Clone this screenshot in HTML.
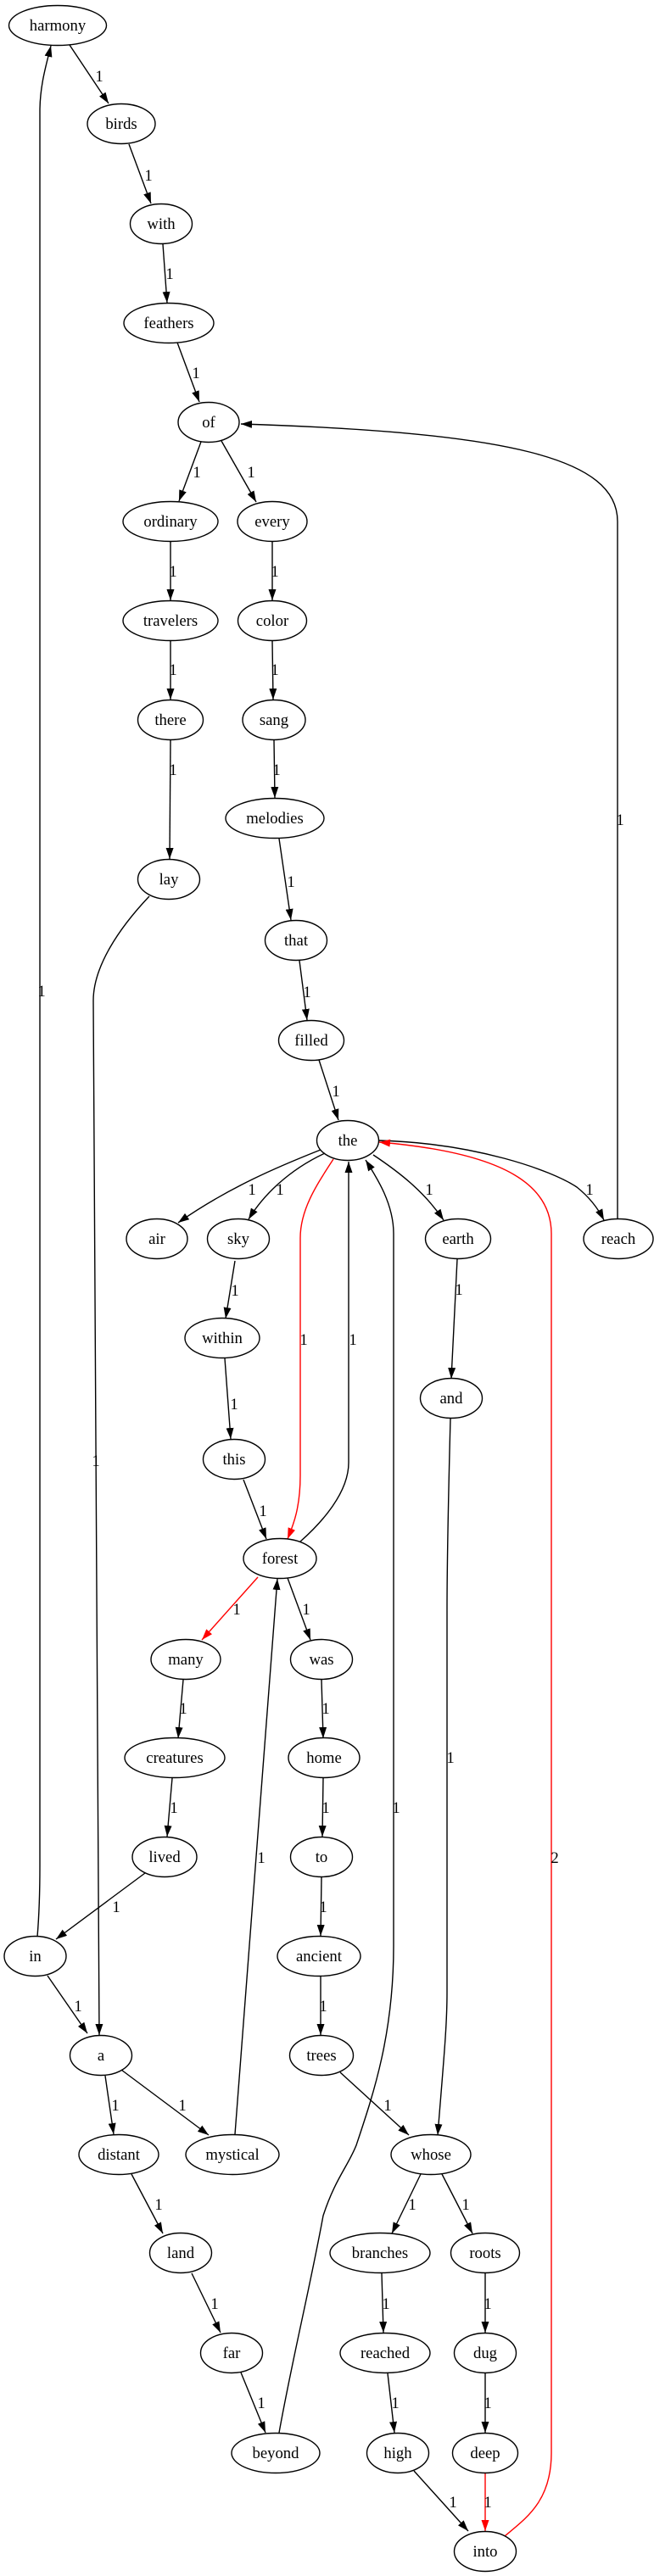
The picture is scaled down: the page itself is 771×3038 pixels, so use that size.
<!DOCTYPE html>
<html><head><meta charset="utf-8"><style>
html,body{margin:0;padding:0;background:#fff;}
svg{display:block;}
text{font-family:"Liberation Serif",serif;font-size:18.7px;text-anchor:middle;fill:#000;}
.e{fill:none;stroke:#000;stroke-width:1.4;}
.r{fill:none;stroke:#f00;stroke-width:1.4;}
ellipse{fill:none;stroke:#000;stroke-width:1.4;}
</style></head><body>
<svg width="771" height="3038" viewBox="0 0 771 3038" xmlns="http://www.w3.org/2000/svg">
<defs>
<marker id="a" viewBox="0 0 13 9" refX="13" refY="4.5" markerWidth="13" markerHeight="9" markerUnits="userSpaceOnUse" orient="auto"><path d="M0,0L13,4.5L0,9z" fill="#000"/></marker>
<marker id="ar" viewBox="0 0 13 9" refX="13" refY="4.5" markerWidth="13" markerHeight="9" markerUnits="userSpaceOnUse" orient="auto"><path d="M0,0L13,4.5L0,9z" fill="#f00"/></marker>
</defs>
<g marker-end="url(#a)">
<path class="e" d="M82,53L128,122"/>
<path class="e" d="M152,170L178,240"/>
<path class="e" d="M192,288L197,357"/>
<path class="e" d="M209,404L235,474"/>
<path class="e" d="M237,521L211,591"/>
<path class="e" d="M261,520L302,592"/>
<path class="e" d="M201,639L201,708"/>
<path class="e" d="M321,639L321,708"/>
<path class="e" d="M201,756L201,825"/>
<path class="e" d="M321,756L322,825"/>
<path class="e" d="M201,873L200,1013"/>
<path class="e" d="M323,873L324,941"/>
<path class="e" d="M329,989L343,1085"/>
<path class="e" d="M353,1133L362,1203"/>
<path class="e" d="M376,1250L399,1321"/>
<path class="e" d="M378,1356C330,1375 270,1400 210,1442"/>
<path class="e" d="M383,1360C340,1380 310,1410 293,1438"/>
<path class="e" d="M440,1362C470,1382 500,1405 523,1439"/>
<path class="e" d="M446,1345C560,1348 650,1380 680,1400C695,1412 705,1425 712,1439"/>
<path class="e" d="M728,1437L728,615C728,540 600,510 284,500"/>
<path class="e" d="M277,1487L266,1555"/>
<path class="e" d="M265,1602L272,1697"/>
<path class="e" d="M287,1745L314,1815"/>
<path class="e" d="M354,1818C380,1795 411,1760 411,1725L411,1370"/>
<path class="e" d="M339,1861L366,1934"/>
<path class="e" d="M539,1485L532,1626"/>
<path class="e" d="M531,1673C529,1750 527,1850 527,1900L527,2350C527,2390 523,2430 516,2518"/>
<path class="e" d="M216,1981L210,2050"/>
<path class="e" d="M379,1981L381,2050"/>
<path class="e" d="M203,2097L197,2166"/>
<path class="e" d="M381,2097L380,2166"/>
<path class="e" d="M171,2209L66,2287"/>
<path class="e" d="M379,2214L378,2283"/>
<path class="e" d="M44,2284C46,2260 47,2230 47,2200L47,131C47,100 55,75 60,54"/>
<path class="e" d="M176,1057C140,1095 110,1140 110,1180L117,2400"/>
<path class="e" d="M56,2330L103,2398"/>
<path class="e" d="M378,2331L378,2400"/>
<path class="e" d="M124,2448L134,2517"/>
<path class="e" d="M143,2441L246,2518"/>
<path class="e" d="M277,2517L327,1862"/>
<path class="e" d="M401,2444L482,2518"/>
<path class="e" d="M155,2564L192,2634"/>
<path class="e" d="M496,2564L462,2634"/>
<path class="e" d="M521,2564L557,2634"/>
<path class="e" d="M226,2681L260,2751"/>
<path class="e" d="M450,2681L452,2751"/>
<path class="e" d="M572,2681L572,2751"/>
<path class="e" d="M284,2798L313,2869"/>
<path class="e" d="M457,2799L465,2869"/>
<path class="e" d="M572,2798L572,2869"/>
<path class="e" d="M329,2869C345,2780 365,2700 381,2613C395,2570 410,2555 420,2530C440,2470 464,2400 464,2295L464,1455C464,1420 445,1390 431,1368"/>
<path class="e" d="M488,2914L552,2985"/>
</g>
<g marker-end="url(#ar)">
<path class="r" d="M393,1367C375,1395 354,1425 354,1460L354,1740C354,1780 345,1800 339,1815"/>
<path class="r" d="M304,1860L238,1934"/>
<path class="r" d="M572,2916L572,2985"/>
<path class="r" d="M595,2991C620,2970 650,2950 650,2893L650,1455C650,1400 600,1360 447,1347"/>
</g>
<g>
<text x="117" y="96">1</text><text x="175" y="213">1</text><text x="200" y="329">1</text><text x="231" y="446">1</text>
<text x="232" y="563">1</text><text x="296" y="563">1</text><text x="204" y="680">1</text><text x="324" y="680">1</text>
<text x="204" y="796">1</text><text x="324" y="796">1</text><text x="204" y="914">1</text><text x="326" y="914">1</text>
<text x="343" y="1046">1</text><text x="362" y="1176">1</text><text x="396" y="1293">1</text>
<text x="731" y="973">1</text><text x="49" y="1175">1</text><text x="113" y="1729">1</text>
<text x="297" y="1409">1</text><text x="330" y="1409">1</text><text x="506" y="1409">1</text><text x="695" y="1409">1</text>
<text x="277" y="1528">1</text><text x="541" y="1527">1</text><text x="276" y="1662">1</text>
<text x="358" y="1586">1</text><text x="416" y="1586">1</text><text x="310" y="1788">1</text>
<text x="279" y="1904">1</text><text x="361" y="1904">1</text>
<text x="216" y="2021">1</text><text x="384" y="2021">1</text><text x="531" y="2079">1</text>
<text x="205" y="2138">1</text><text x="384" y="2138">1</text><text x="467" y="2138">1</text>
<text x="308" y="2197">1</text><text x="654" y="2197" fill="#f00" style="fill:#000">2</text>
<text x="137" y="2255">1</text><text x="381" y="2255">1</text>
<text x="92" y="2372">1</text><text x="381" y="2372">1</text>
<text x="136" y="2489">1</text><text x="215" y="2489">1</text><text x="457" y="2489">1</text>
<text x="187" y="2606">1</text><text x="486" y="2606">1</text><text x="549" y="2606">1</text>
<text x="253" y="2723">1</text><text x="455" y="2723">1</text><text x="575" y="2723">1</text>
<text x="308" y="2840">1</text><text x="466" y="2840">1</text><text x="575" y="2840">1</text>
<text x="534" y="2957">1</text><text x="575" y="2957">1</text>
</g>
<g>
<ellipse cx="68" cy="30" rx="57.5" ry="23.5"/><text x="68" y="36">harmony</text>
<ellipse cx="143" cy="146" rx="40" ry="23.5"/><text x="143" y="152">birds</text>
<ellipse cx="190" cy="264" rx="36.5" ry="23.5"/><text x="190" y="270">with</text>
<ellipse cx="199" cy="381" rx="53" ry="23.5"/><text x="199" y="387">feathers</text>
<ellipse cx="246" cy="498" rx="36" ry="23.5"/><text x="246" y="504">of</text>
<ellipse cx="201" cy="615" rx="56" ry="23.5"/><text x="201" y="621">ordinary</text>
<ellipse cx="321" cy="615" rx="41" ry="23.5"/><text x="321" y="621">every</text>
<ellipse cx="201" cy="732" rx="56" ry="23.5"/><text x="201" y="738">travelers</text>
<ellipse cx="321" cy="732" rx="40.5" ry="23.5"/><text x="321" y="738">color</text>
<ellipse cx="201" cy="849" rx="38.5" ry="23.5"/><text x="201" y="855">there</text>
<ellipse cx="323" cy="849" rx="37" ry="23.5"/><text x="323" y="855">sang</text>
<ellipse cx="324" cy="965" rx="58" ry="23.5"/><text x="324" y="971">melodies</text>
<ellipse cx="199" cy="1037" rx="36.5" ry="23.5"/><text x="199" y="1043">lay</text>
<ellipse cx="349" cy="1109" rx="36.5" ry="23.5"/><text x="349" y="1115">that</text>
<ellipse cx="367" cy="1227" rx="38.5" ry="23.5"/><text x="367" y="1233">filled</text>
<ellipse cx="410" cy="1345" rx="36.5" ry="23.5"/><text x="410" y="1351">the</text>
<ellipse cx="185" cy="1461" rx="36" ry="23.5"/><text x="185" y="1467">air</text>
<ellipse cx="281" cy="1461" rx="36.5" ry="23.5"/><text x="281" y="1467">sky</text>
<ellipse cx="540" cy="1461" rx="38.5" ry="23.5"/><text x="540" y="1467">earth</text>
<ellipse cx="729" cy="1461" rx="41" ry="23.5"/><text x="729" y="1467">reach</text>
<ellipse cx="262" cy="1578" rx="44" ry="23.5"/><text x="262" y="1584">within</text>
<ellipse cx="532" cy="1649" rx="36.5" ry="23.5"/><text x="532" y="1655">and</text>
<ellipse cx="276" cy="1721" rx="36.5" ry="23.5"/><text x="276" y="1727">this</text>
<ellipse cx="330" cy="1838" rx="43" ry="23.5"/><text x="330" y="1844">forest</text>
<ellipse cx="219" cy="1957" rx="41" ry="23.5"/><text x="219" y="1963">many</text>
<ellipse cx="379" cy="1957" rx="36.5" ry="23.5"/><text x="379" y="1963">was</text>
<ellipse cx="206" cy="2073" rx="59" ry="23.5"/><text x="206" y="2079">creatures</text>
<ellipse cx="382" cy="2073" rx="42" ry="23.5"/><text x="382" y="2079">home</text>
<ellipse cx="194" cy="2190" rx="38" ry="23.5"/><text x="194" y="2196">lived</text>
<ellipse cx="379" cy="2190" rx="36.5" ry="23.5"/><text x="379" y="2196">to</text>
<ellipse cx="41.5" cy="2307" rx="36.5" ry="23.5"/><text x="41.5" y="2313">in</text>
<ellipse cx="376" cy="2307" rx="49" ry="23.5"/><text x="376" y="2313">ancient</text>
<ellipse cx="119" cy="2424" rx="36.5" ry="23.5"/><text x="119" y="2430">a</text>
<ellipse cx="379" cy="2424" rx="37.5" ry="23.5"/><text x="379" y="2430">trees</text>
<ellipse cx="140" cy="2541" rx="47" ry="23.5"/><text x="140" y="2547">distant</text>
<ellipse cx="274" cy="2541" rx="55" ry="23.5"/><text x="274" y="2547">mystical</text>
<ellipse cx="508" cy="2541" rx="47" ry="23.5"/><text x="508" y="2547">whose</text>
<ellipse cx="213" cy="2657" rx="36.5" ry="23.5"/><text x="213" y="2663">land</text>
<ellipse cx="448" cy="2657" rx="59" ry="23.5"/><text x="448" y="2663">branches</text>
<ellipse cx="572" cy="2657" rx="40.5" ry="23.5"/><text x="572" y="2663">roots</text>
<ellipse cx="273" cy="2775" rx="36.5" ry="23.5"/><text x="273" y="2781">far</text>
<ellipse cx="454" cy="2775" rx="53" ry="23.5"/><text x="454" y="2781">reached</text>
<ellipse cx="572" cy="2775" rx="36.5" ry="23.5"/><text x="572" y="2781">dug</text>
<ellipse cx="325" cy="2893" rx="52" ry="23.5"/><text x="325" y="2899">beyond</text>
<ellipse cx="469" cy="2893" rx="36.5" ry="23.5"/><text x="469" y="2899">high</text>
<ellipse cx="572" cy="2893" rx="38.5" ry="23.5"/><text x="572" y="2899">deep</text>
<ellipse cx="572" cy="3009" rx="36.5" ry="23.5"/><text x="572" y="3015">into</text>
</g>
</svg>
</body></html>
